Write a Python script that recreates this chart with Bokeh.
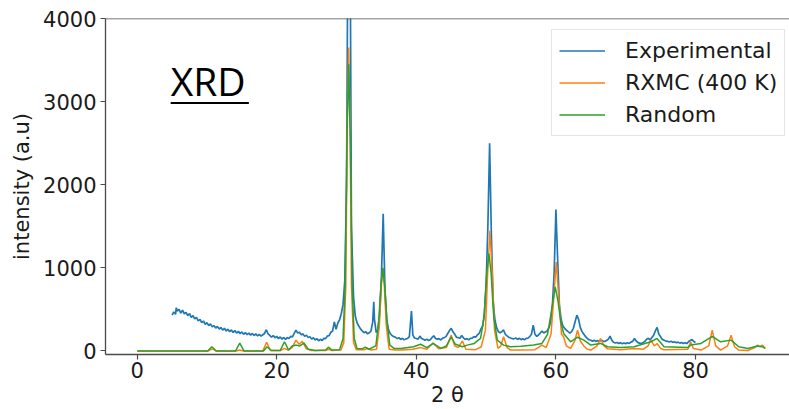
from bokeh.plotting import figure
from bokeh.models import Range1d, Span, Label, Legend, LegendItem, FixedTicker
from bokeh.embed import file_html
from bokeh.resources import INLINE

# ---------------- data ----------------
exp_two_theta = [
    5.00, 5.25, 5.50, 5.60, 5.75, 6.00, 6.25, 6.50, 6.75, 7.00, 7.25, 7.50, 7.75,
    8.00, 8.25, 8.50, 8.75, 9.00, 9.25, 9.50, 9.75, 10.00, 10.25, 10.50, 10.75,
    11.00, 11.25, 11.50, 11.75, 12.00, 12.25, 12.50, 12.75, 13.00, 13.25, 13.50, 13.75,
    14.00, 14.25, 14.50, 14.75, 15.00, 15.25, 15.50, 15.75, 16.00, 16.25, 16.50, 16.75,
    17.00, 17.25, 17.50, 17.75, 18.00, 18.25, 18.50, 18.75, 19.00, 19.25, 19.50, 19.75,
    20.00, 20.25, 20.50, 20.75, 21.00, 21.25, 21.50, 21.75, 22.00, 22.25, 22.50, 22.75,
    23.00, 23.25, 23.50, 23.75, 24.00, 24.25, 24.50, 24.75, 25.00, 25.25, 25.50, 25.75,
    26.00, 26.25, 26.50, 26.75, 27.00, 27.25, 27.50, 27.75, 28.00, 28.25, 28.50, 28.75,
    29.00, 29.25, 29.50, 29.75, 30.00, 30.15, 30.35, 30.55, 30.70, 31.00, 31.25, 31.50, 31.75,
    32.00, 32.25, 32.50, 32.75, 33.00, 33.25, 33.50, 33.75, 33.90, 34.00, 34.25, 34.50, 34.75,
    35.00, 35.25, 35.50, 35.75, 36.00, 36.25, 36.50, 36.75, 37.00, 37.25, 37.50, 37.75,
    38.00, 38.25, 38.50, 38.75, 39.00, 39.30, 39.50, 39.75, 40.00, 40.25, 40.50, 40.75,
    41.00, 41.25, 41.50, 41.75, 42.00, 42.25, 42.50, 42.75, 43.00, 43.25, 43.50, 43.75,
    44.00, 44.25, 44.50, 44.75, 45.00, 45.25, 45.50, 45.75, 46.00, 46.25, 46.50, 46.75,
    47.00, 47.25, 47.50, 47.75, 48.00, 48.25, 48.50, 48.75, 49.00, 49.25, 49.50, 49.75,
    50.00, 50.25, 50.50, 50.75, 51.00, 51.25, 51.50, 51.75, 52.00, 52.25, 52.50, 52.75,
    53.00, 53.25, 53.50, 53.75, 54.00, 54.25, 54.50, 54.75, 55.00, 55.25, 55.50, 55.75,
    56.00, 56.25, 56.50, 56.75, 57.00, 57.25, 57.50, 57.75, 58.00, 58.25, 58.50, 58.75,
    59.00, 59.25, 59.50, 59.75, 60.00, 60.25, 60.50, 60.75, 61.00, 61.25, 61.50, 61.75,
    62.00, 62.25, 62.50, 62.75, 63.00, 63.25, 63.50, 63.75, 64.00, 64.25, 64.50, 64.75,
    65.00, 65.25, 65.50, 65.75, 66.00, 66.25, 66.50, 66.75, 67.00, 67.25, 67.50, 67.75,
    68.00, 68.25, 68.50, 68.75, 69.00, 69.25, 69.50, 69.75, 70.00, 70.25, 70.50, 70.75,
    71.00, 71.25, 71.50, 71.75, 72.00, 72.25, 72.50, 72.75, 73.00, 73.25, 73.50, 73.75,
    74.00, 74.25, 74.50, 74.75, 75.00, 75.25, 75.50, 75.75, 76.00, 76.25, 76.50, 76.75,
    77.00, 77.25, 77.50, 77.75, 78.00, 78.25, 78.50, 78.75, 79.00, 79.25, 79.50, 79.75, 80.00,
]
exp_intensity = [
    430, 470, 440, 520, 480, 500, 455, 490, 445, 465, 425, 450, 405,
    425, 385, 405, 360, 380, 340, 360, 320, 340, 305, 325, 290,
    305, 275, 295, 262, 282, 250, 272, 240, 262, 232, 252, 222,
    245, 215, 235, 208, 228, 200, 222, 195, 215, 190, 210, 185,
    205, 180, 198, 178, 195, 210, 255, 205, 188, 165, 185, 158,
    175, 148, 168, 142, 162, 140, 160, 150, 175, 170, 210, 250,
    215, 225, 195, 205, 175, 190, 160, 172, 142, 158, 132, 148,
    122, 140, 125, 152, 148, 180, 185, 225, 240, 350, 260, 335,
    375, 450, 560, 850, 2000, 4300, 4600, 4300, 1500, 650, 420, 340, 300,
    265, 240, 220, 232, 205, 218, 240, 350, 590, 380, 220, 260, 450,
    900, 1650, 750, 380, 260, 210, 185, 172, 165, 148, 160, 138,
    152, 133, 145, 150, 172, 480, 190, 155, 150, 142, 178, 150,
    140, 128, 142, 126, 135, 162, 182, 150, 142, 148, 132, 152,
    160, 172, 210, 245, 272, 230, 202, 165, 160, 152, 186, 158,
    138, 148, 133, 152, 155, 172, 165, 192, 210, 262, 300, 450,
    800, 1500, 2500, 1400, 600, 380, 280, 232, 220, 232, 252, 200,
    182, 165, 155, 148, 145, 157, 138, 152, 136, 147, 133, 152,
    155, 172, 202, 310, 200, 175, 192, 215, 240, 215, 228, 240,
    280, 350, 550, 950, 1700, 1100, 550, 380, 300, 272, 250, 232,
    215, 232, 272, 350, 430, 380, 280, 232, 200, 172, 150, 135,
    128, 118, 127, 113, 124, 116, 127, 118, 114, 126, 140, 178,
    130, 104, 96, 102, 90, 100, 86, 96, 88, 98, 90, 106,
    115, 150, 120, 100, 94, 90, 101, 115, 140, 152, 133, 162,
    190, 240, 282, 200, 170, 138, 130, 118, 116, 108, 116, 103,
    110, 98, 106, 94, 102, 90, 99, 88, 110, 126, 136, 114, 102,
]

rxmc_two_theta = [
    0.0, 10.2, 10.75, 11.3, 14.2, 14.7, 15.2, 18.0, 18.55, 19.1, 20.5, 21.1, 21.6,
    22.2, 22.75, 23.2, 23.65, 24.2, 25.0, 27.0, 27.4, 27.9, 29.2, 29.6, 29.9, 30.1,
    30.3, 30.5, 30.7, 31.0, 31.4, 32.5, 33.0, 33.5, 34.3, 34.7, 35.0, 35.2, 35.4,
    35.7, 36.1, 37.0, 38.0, 39.5, 40.6, 41.5, 42.4, 43.2, 44.3, 45.0, 45.5, 46.0,
    46.6, 47.1, 48.5, 49.3, 49.9, 50.2, 50.55, 50.9, 51.2, 51.7, 52.1, 52.5, 53.0,
    53.5, 55.0, 57.0, 58.0, 58.6, 59.3, 59.7, 60.05, 60.4, 60.8, 61.1, 61.5, 62.1,
    62.7, 63.1, 63.5, 64.0, 64.5, 65.0, 65.9, 66.4, 66.9, 67.4, 69.3, 71.2, 72.5,
    73.2, 73.6, 74.1, 74.5, 75.0, 75.5, 78.9, 79.3, 79.7, 80.8, 81.9, 82.4, 82.9,
    83.6, 84.6, 85.1, 85.6, 86.2, 87.5, 88.5, 88.9, 89.2, 89.6, 90.0,
]
rxmc_intensity = [
    0, 0, 25, 0, 0, 10, 0, 0, 105, 5, 5, 30, 10,
    40, 130, 80, 115, 30, 5, 5, 20, 5, 10, 100, 800, 2800,
    3650, 2800, 800, 100, 15, 15, 30, 10, 20, 300, 800, 990, 800,
    300, 20, 10, 10, 20, 40, 20, 95, 25, 40, 190, 60, 40,
    120, 20, 15, 50, 250, 900, 1450, 900, 250, 30, 60, 170, 40,
    10, 10, 15, 70, 40, 200, 650, 1070, 650, 200, 170, 60, 30,
    120, 250, 120, 60, 20, 10, 60, 150, 60, 25, 15, 30, 20,
    60, 130, 60, 90, 30, 15, 20, 110, 30, 10, 60, 250, 60,
    10, 60, 190, 50, 10, 5, 40, 70, 50, 70, 30,
]

random_two_theta = [
    0.0, 10.1, 10.7, 11.3, 14.1, 14.7, 15.3, 18.1, 18.6, 19.2, 20.5, 21.1, 21.7,
    22.2, 22.8, 23.3, 23.9, 24.5, 25.5, 27.0, 27.4, 27.9, 29.0, 29.5, 29.8, 30.05,
    30.3, 30.55, 30.8, 31.1, 31.5, 32.2, 32.7, 33.2, 34.2, 34.6, 34.95, 35.2, 35.45,
    35.8, 36.2, 36.8, 37.8, 38.8, 39.6, 40.6, 41.5, 42.4, 43.5, 44.3, 45.0, 45.6,
    46.6, 47.3, 48.3, 49.2, 49.7, 50.1, 50.4, 50.7, 51.1, 51.6, 52.5, 53.5, 55.0,
    56.8, 58.0, 58.8, 59.3, 59.9, 60.3, 60.7, 61.1, 62.1, 63.1, 64.0, 65.0, 66.4,
    67.4, 69.3, 71.2, 73.6, 74.5, 75.5, 78.9, 79.3, 80.8, 82.4, 83.6, 85.1, 86.2,
    87.5, 88.9, 89.6, 90.0,
]
random_intensity = [
    0, 0, 50, 0, 0, 95, 0, 0, 50, 5, 5, 110, 10,
    60, 70, 60, 95, 20, 5, 10, 45, 10, 15, 150, 800, 2500,
    3450, 2500, 800, 150, 30, 25, 45, 20, 60, 350, 800, 1000, 800,
    350, 70, 30, 30, 40, 50, 80, 40, 90, 30, 60, 165, 80,
    50, 70, 90, 150, 400, 950, 1170, 950, 400, 130, 70, 50, 55,
    70, 90, 200, 450, 770, 600, 350, 210, 110, 165, 130, 70, 90,
    50, 40, 50, 110, 150, 50, 40, 70, 90, 175, 110, 130, 50,
    30, 60, 50, 30,
]

series_labels = ["Experimental", "RXMC (400 K)", "Random"]
series_colors = ["#1f77b4", "#ff7f0e", "#2ca02c"]
x_tick_values = [0, 20, 40, 60, 80]
y_tick_values = [0, 1000, 2000, 3000, 4000]
x_axis_title = "2 \u03b8"
y_axis_title = "intensity (a.u)"
annotation_text = "XRD"

FONT = "DejaVu Sans"

p = figure(
    width=789, height=409,
    output_backend="svg", toolbar_location=None,
    x_range=Range1d(-4.54, 93.47), y_range=Range1d(-43, 4000),
    min_border_left=105, min_border_right=0, min_border_top=18, min_border_bottom=0,
)
p.outline_line_color = None
p.background_fill_color = "white"
p.border_fill_color = "white"
p.xgrid.visible = False
p.ygrid.visible = False

r_exp = p.line(exp_two_theta, exp_intensity, color=series_colors[0], line_width=1.7)
r_rx = p.line(rxmc_two_theta, rxmc_intensity, color=series_colors[1], line_width=1.5)
r_rd = p.line(random_two_theta, random_intensity, color=series_colors[2], line_width=1.5)

spine = "#4a4a4a"
for ax in (p.xaxis[0], p.yaxis[0]):
    ax.axis_line_color = spine
    ax.axis_line_width = 1.3
    ax.major_tick_line_color = spine
    ax.major_tick_line_width = 1.2
    ax.major_tick_out = 5
    ax.major_tick_in = 0
    ax.minor_tick_line_color = None
    ax.major_label_text_font = FONT
    ax.major_label_text_font_size = "21px"
    ax.major_label_text_color = "#1a1a1a"
    ax.major_label_text_line_height = 1.0
    ax.axis_label_text_font = FONT
    ax.axis_label_text_font_size = "21px"
    ax.axis_label_text_font_style = "normal"
    ax.axis_label_text_color = "#1a1a1a"
    ax.axis_label_text_line_height = 1.0

p.xaxis.ticker = FixedTicker(ticks=x_tick_values)
p.yaxis.ticker = FixedTicker(ticks=y_tick_values)
p.xaxis.axis_label = x_axis_title
p.yaxis.axis_label = y_axis_title
p.xaxis.major_label_standoff = 2
p.xaxis.axis_label_standoff = 2
p.yaxis.major_label_standoff = 4
p.yaxis.axis_label_standoff = 6

# top spine
p.add_layout(Span(location=4000, dimension="width", line_color=spine, line_width=1.3))

# XRD annotation with underline
xrd_x, xrd_y = 4.8, 3249
underline_y = 2983
p.add_layout(Label(x=xrd_x, y=xrd_y, text=annotation_text, text_font="Open Sans",
                   text_font_size="39px", text_color="black", text_baseline="alphabetic"))
p.segment(x0=[xrd_x], y0=[underline_y], x1=[xrd_x + 11.2], y1=[underline_y],
          line_color="black", line_width=2)

legend = Legend(
    items=[LegendItem(label=series_labels[i], renderers=[r]) for i, r in enumerate([r_exp, r_rx, r_rd])],
    location=(446, 218),
    label_text_font=FONT, label_text_font_size="22px", label_text_color="#1a1a1a",
    glyph_width=46, glyph_height=27, label_height=27, label_standoff=20,
    spacing=5, padding=7, margin=0,
    border_line_color="#cccccc", border_line_width=1,
    background_fill_color="white", background_fill_alpha=0.85,
)
p.add_layout(legend)

open("out.html", "w").write(file_html(p, INLINE))
